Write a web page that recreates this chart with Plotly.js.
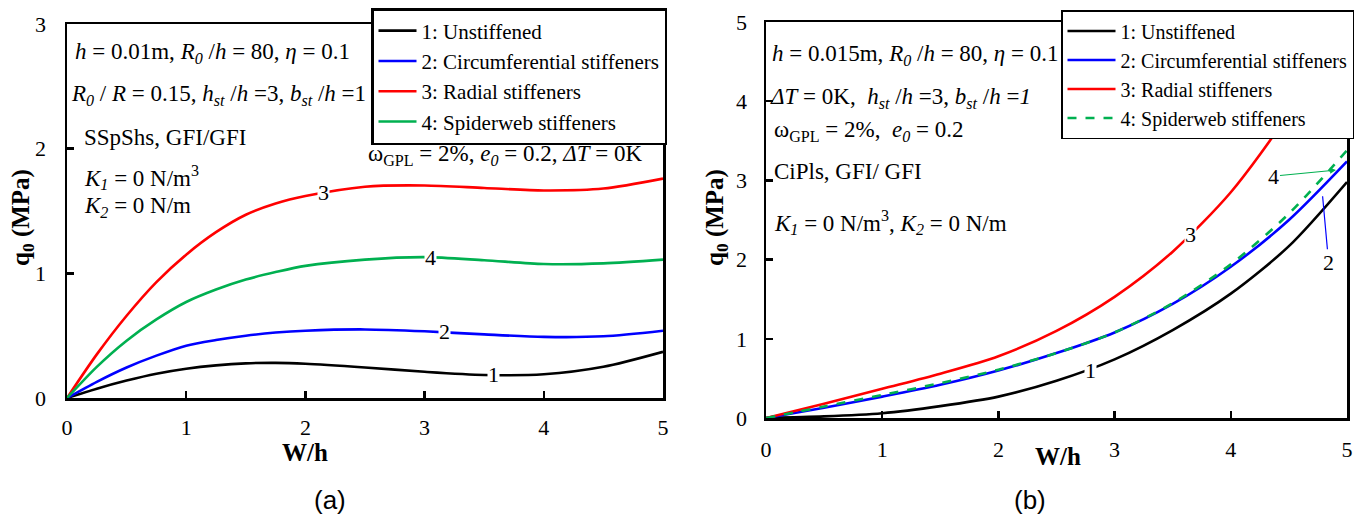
<!DOCTYPE html>
<html>
<head>
<meta charset="utf-8">
<script src="https://cdn.plot.ly/plotly-3.0.1.min.js"></script>
<style>html,body{margin:0;padding:0;background:#fff;}#chart{width:1368px;height:520px;}</style>
</head>
<body>
<div id="chart"></div>
<script>
// ---------- data ----------
const legendNames = ["1: Unstiffened", "2: Circumferential stiffeners", "3: Radial stiffeners", "4: Spiderweb stiffeners"];
const xTicks = [0, 1, 2, 3, 4, 5];

// panel (a)
const xA = [0, 0.25, 0.5, 0.75, 1, 1.25, 1.5, 1.75, 2, 2.5, 3, 3.5, 4, 4.5, 5];
const a1 = [0, 0.075, 0.14, 0.195, 0.235, 0.262, 0.278, 0.282, 0.275, 0.245, 0.21, 0.185, 0.19, 0.25, 0.37];
const a2 = [0, 0.13, 0.245, 0.34, 0.42, 0.465, 0.5, 0.525, 0.54, 0.55, 0.535, 0.51, 0.49, 0.495, 0.54];
const a3 = [0, 0.35, 0.66, 0.93, 1.15, 1.33, 1.47, 1.56, 1.62, 1.695, 1.705, 1.685, 1.665, 1.68, 1.76];
const a4 = [0, 0.25, 0.46, 0.63, 0.77, 0.87, 0.95, 1.01, 1.06, 1.11, 1.13, 1.105, 1.075, 1.08, 1.11];

// panel (b)
const xB = [0, 0.5, 1, 1.5, 2, 2.5, 3, 3.5, 4, 4.5, 5];
const b1 = [0, 0.02, 0.06, 0.15, 0.27, 0.47, 0.74, 1.11, 1.57, 2.17, 2.98];
const b2 = [0, 0.13, 0.27, 0.42, 0.6, 0.82, 1.08, 1.44, 1.91, 2.5, 3.24];
const b3 = [0, 0.18, 0.37, 0.56, 0.78, 1.1, 1.53, 2.1, 2.85, 3.85, 5.1];
const b4 = [0, 0.145, 0.29, 0.44, 0.61, 0.82, 1.08, 1.45, 1.94, 2.58, 3.38];

// ---------- styling ----------
const W = 1368, H = 520;
const px = v => v / W, py = v => 1 - v / H;
const SERIF = "Liberation Serif";
const colors = ["#000000", "#0000ff", "#ff0000", "#00b050"];
const LW = 2.6;

function tr(x, y, i, xa, ya, leg, dash) {
  return {
    x: x, y: y, type: "scatter", mode: "lines", name: legendNames[i],
    xaxis: xa, yaxis: ya, legend: leg,
    line: {color: colors[i], width: LW, shape: "spline", smoothing: 0.8, dash: dash || "solid"},
    hoverinfo: "skip"
  };
}

const data = [
  tr(xA, a1, 0, "x", "y", "legend"),
  tr(xA, a2, 1, "x", "y", "legend"),
  tr(xA, a3, 2, "x", "y", "legend"),
  tr(xA, a4, 3, "x", "y", "legend"),
  tr(xB, b1, 0, "x2", "y2", "legend2"),
  tr(xB, b2, 1, "x2", "y2", "legend2"),
  tr(xB, b3, 2, "x2", "y2", "legend2"),
  tr(xB, b4, 3, "x2", "y2", "legend2", "dash")
];

function axis(domain, range, anchor, standoff) {
  return {
    domain: domain, range: range, anchor: anchor,
    tickvals: xTicks, ticktext: xTicks.map(String),
    showgrid: false, zeroline: false,
    showline: true, linecolor: "#000", linewidth: 2.5, mirror: true,
    ticks: "inside", ticklen: 7, tickwidth: 2.5, tickcolor: "#000",
    tickfont: {family: SERIF, size: 22, color: "#000"},
    ticklabelstandoff: standoff, fixedrange: true
  };
}

const xaA = axis([px(67), px(663)], [0, 5], "y", 8);
const yaA = axis([py(398), py(24)], [0, 3], "x", 14);
yaA.tickvals = [0, 1, 2, 3]; yaA.ticktext = ["0", "1", "2", "3"];
const xaB = axis([px(766), px(1347)], [0, 5], "y2", 10);
const yaB = axis([py(418), py(22)], [0, 5], "x2", 12);

const txtFont = {family: SERIF, size: 23, color: "#000"};
function note(text, x, y, extra) {
  return Object.assign({
    text: text, xref: "paper", yref: "paper", x: px(x), y: py(y),
    xanchor: "left", yanchor: "middle", showarrow: false, font: txtFont
  }, extra || {});
}
const lblFont = {family: SERIF, size: 22, color: "#000"};
function lbl(text, x, y, xr, yr, extra) {
  return Object.assign({
    text: text, xref: xr, yref: yr, x: x, y: y, showarrow: false,
    font: lblFont, bgcolor: "#ffffff", borderpad: 0
  }, extra || {});
}
const titleFont = {family: SERIF, size: 25, color: "#000"};

const annotations = [
  // panel (a) texts
  note("<i>h</i> = 0.01m, <i>R<sub>0</sub></i> /<i>h</i> = 80, <i>η</i> = 0.1", 73, 53),
  note("<i>R<sub>0</sub></i> / <i>R</i> = 0.15, <i>h<sub>st</sub></i> /<i>h</i> =3, <i>b<sub>st</sub></i> /<i>h</i> =1", 69, 95),
  note("SSpShs, GFI/GFI", 82, 138),
  note("<i>K<sub>1</sub></i> = 0 N/m<sup>3</sup>", 82, 177),
  note("<i>K<sub>2</sub></i> = 0 N/m", 82, 207),
  note("ω<sub>GPL</sub> = 2%, <i>e<sub>0</sub></i> = 0.2, <i>ΔT</i> = 0K", 366, 155),
  // panel (b) texts
  note("<i>h</i> = 0.015m, <i>R<sub>0</sub></i> /<i>h</i> = 80, <i>η</i> = 0.1", 770, 55),
  note("<i>ΔT</i> = 0K,  <i>h<sub>st</sub></i> /<i>h</i> =3, <i>b<sub>st</sub></i> /<i>h</i> =<i>1</i>", 768, 98),
  note("ω<sub>GPL</sub> = 2%,  <i>e<sub>0</sub></i> = 0.2", 772, 131),
  note("CiPls, GFI/ GFI", 772, 172),
  note("<i>K<sub>1</sub></i> = 0 N/m<sup>3</sup>, <i>K<sub>2</sub></i> = 0 N/m", 772, 222),
  // curve labels (a)
  lbl("3", 2.15, 1.65, "x", "y"),
  lbl("4", 3.05, 1.13, "x", "y"),
  lbl("2", 3.17, 0.53, "x", "y"),
  lbl("1", 3.58, 0.19, "x", "y"),
  // curve labels (b)
  lbl("3", 3.65, 2.32, "x2", "y2"),
  lbl("1", 2.79, 0.6, "x2", "y2"),
  lbl("4", 4.905, 3.13, "x2", "y2", {showarrow: true, ax: -62, ay: 6, arrowcolor: "#00b050", arrowwidth: 1.2, arrowhead: 2, arrowsize: 1, bgcolor: "rgba(0,0,0,0)"}),
  lbl("2", 4.79, 2.8, "x2", "y2", {showarrow: true, ax: 6, ay: 66, arrowcolor: "#0000ff", arrowwidth: 1.2, arrowhead: 0, bgcolor: "rgba(0,0,0,0)"}),
  // axis titles
  note("<b>W/h</b>", 305, 452, {xanchor: "center", font: titleFont}),
  note("<b>W/h</b>", 1058, 456, {xanchor: "center", font: titleFont}),
  note("<b>q<sub>0</sub> (MPa)</b>", 22, 218, {xanchor: "center", textangle: -90, font: titleFont}),
  note("<b>q<sub>0</sub> (MPa)</b>", 716, 218, {xanchor: "center", textangle: -90, font: titleFont}),
  // panel letters
  note("(a)", 330, 500, {xanchor: "center", font: {family: "Liberation Sans", size: 26, color: "#000"}}),
  note("(b)", 1030, 500, {xanchor: "center", font: {family: "Liberation Sans", size: 26, color: "#000"}})
];

const layout = {
  width: W, height: H,
  margin: {l: 0, r: 0, t: 0, b: 0},
  paper_bgcolor: "#fff", plot_bgcolor: "#fff",
  xaxis: xaA, yaxis: yaA, xaxis2: xaB, yaxis2: yaB,
  showlegend: true,
  legend: {x: px(371), y: py(8), xanchor: "left", yanchor: "top", bgcolor: "#fff",
    bordercolor: "#000", borderwidth: 2.5, font: {family: SERIF, size: 21, color: "#000"},
    tracegroupgap: 0, itemwidth: 38},
  legend2: {x: px(1061), y: py(10), xanchor: "left", yanchor: "top", bgcolor: "#fff",
    bordercolor: "#000", borderwidth: 1.5, font: {family: SERIF, size: 20, color: "#000"},
    tracegroupgap: 0, itemwidth: 48},
  annotations: annotations
};

Plotly.newPlot("chart", data, layout, {staticPlot: true, displayModeBar: false});
</script>
</body>
</html>
